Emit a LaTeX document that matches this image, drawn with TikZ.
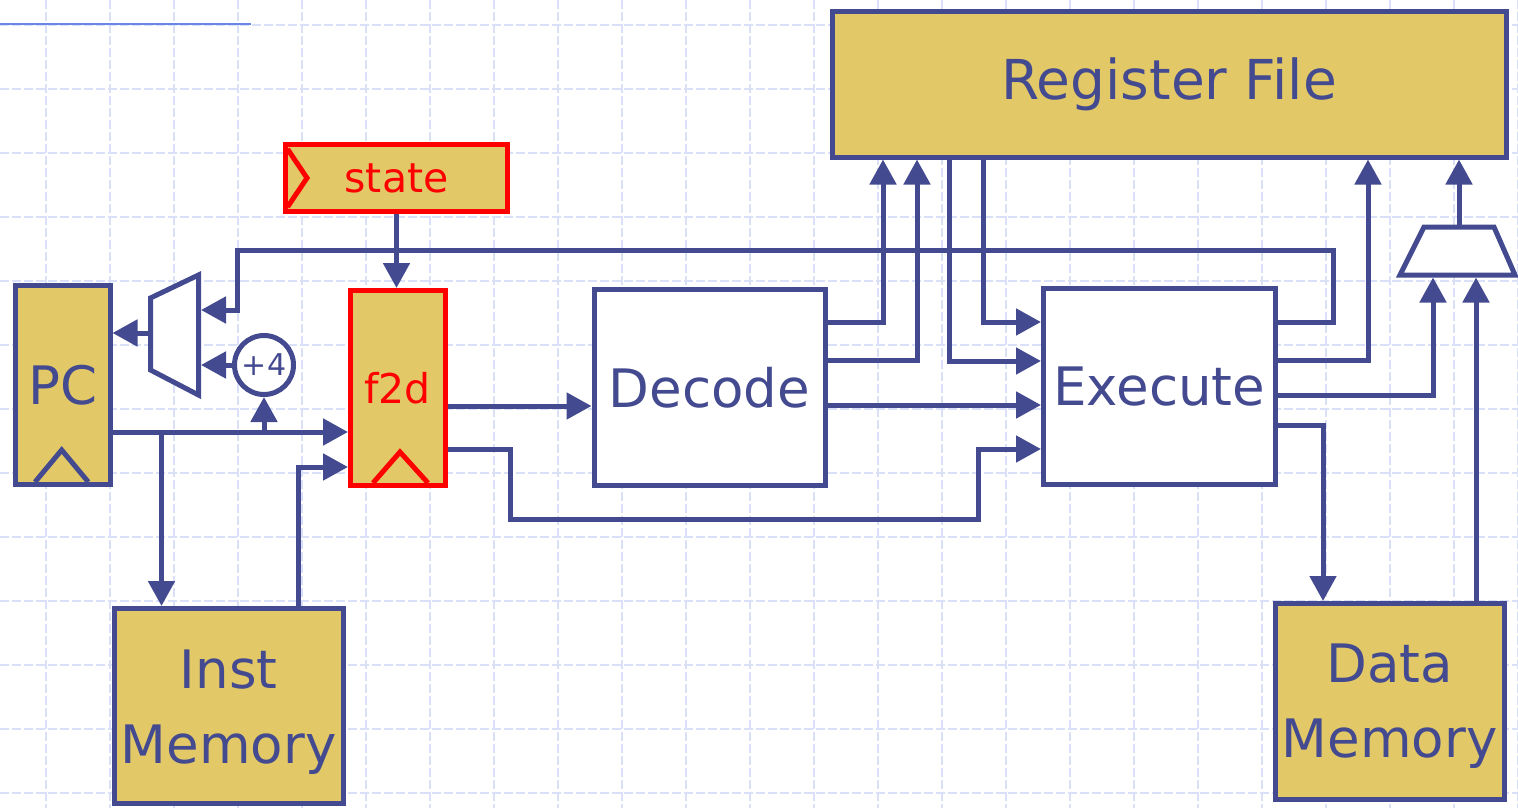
\documentclass[tikz,border=0pt]{standalone}
\usepackage{fontspec}
\setmainfont{DejaVu Sans}
\usetikzlibrary{arrows.meta}
\definecolor{db}{HTML}{434A8F}
\definecolor{gold}{HTML}{E2C866}
\definecolor{gridc}{HTML}{D9E0F8}
\definecolor{topline}{HTML}{6A85E6}
\begin{document}
\begin{tikzpicture}[x=1pt,y=-1pt,
  gridline/.style={gridc, line width=1.2pt, dash pattern=on 9pt off 3pt},
  wire/.style={db, line width=5pt},
  arr/.style={wire, -{Triangle[length=25pt,width=26pt]}},
  box/.style={line width=5pt, inner sep=0pt, align=center},
  goldbox/.style={box, draw=db, fill=gold, text=db},
  redbox/.style={box, draw=red, fill=gold, text=red},
  whitebox/.style={box, draw=db, fill=white, text=db},
  bigtext/.style={font=\fontsize{53}{75}\selectfont},
  midtext/.style={font=\fontsize{41}{50}\selectfont},
  clk/.style={line width=5pt, line join=miter},
  muxshape/.style={draw=db, fill=white, line width=5pt, line join=miter}
]
\useasboundingbox (0,0) rectangle (1518,808);
% background grid
\foreach \x in {46,110,...,1518} \draw[gridline] (\x,0) -- (\x,808);
\foreach \y in {25,89,...,808} \draw[gridline] (0,\y) -- (1518,\y);
\draw[topline, line width=2.5pt] (0,24) -- (251,24);

% boxes
\node[goldbox, bigtext, font=\fontsize{55}{75}\selectfont, minimum width=674pt, minimum height=145pt] (rf) at (1169,84.5) {Register File};
\node[redbox, midtext, minimum width=222pt, minimum height=67pt] (stt) at (396.5,178) {state};
\node[goldbox, bigtext, minimum width=94.5pt, minimum height=198.5pt] (pc) at (62.75,384.75) {PC};
\node[redbox, midtext, minimum width=94.5pt, minimum height=194.5pt] (f2d) at (397.75,387.75) {f2d};
\node[whitebox, bigtext, minimum width=231pt, minimum height=196.5pt] (dec) at (709.5,387.25) {Decode};
\node[whitebox, bigtext, minimum width=231.5pt, minimum height=196.5pt] (ex) at (1159.25,386.25) {Execute};
\node[goldbox, bigtext, minimum width=229pt, minimum height=195pt, text depth=0pt] (im) at (228.75,706) {};
\node[text=db, bigtext, align=center] at ([yshift=-6pt]im.center) {Inst\\Memory};
\node[goldbox, bigtext, minimum width=228.5pt, minimum height=195.5pt] (dm) at (1389.75,701.25) {};
\node[text=db, bigtext, align=center] at ([yshift=-5pt]dm.center) {Data\\Memory};
\node[circle, draw=db, fill=white, text=db, line width=5pt, inner sep=0pt, minimum size=59pt, font=\fontsize{30}{32}\selectfont] (p4) at (264,365) {+4};

% clock marks
\draw[clk, db] (35,482) -- (61.7,450) -- (88.3,482);
\draw[clk, red] (373,483) -- (400,452) -- (428,483);
\draw[clk, red] (287.5,149) -- (307,178) -- (287.5,207);

% left mux
\coordinate (m1a) at (150.5,298);
\coordinate (m1b) at (198.5,275);
\coordinate (m1c) at (198.5,395);
\coordinate (m1d) at (150.5,370);
\draw[muxshape] (m1a) -- (m1b) -- (m1c) -- (m1d) -- cycle;
\coordinate (m1out) at (148,333);
\coordinate (m1in1) at (201,310);
\coordinate (m1in2) at (201,365);

% right mux
\coordinate (m2a) at (1424,227);
\coordinate (m2b) at (1494,227);
\coordinate (m2c) at (1515,275);
\coordinate (m2d) at (1400,275);
\draw[muxshape] (m2a) -- (m2b) -- (m2c) -- (m2d) -- cycle;
\coordinate (m2out) at (1459,225);
\coordinate (m2in1) at (1433,277.5);
\coordinate (m2in2) at (1476,277.5);

% connectors: fetch side
\draw[arr] (m1out) -- (m1out -| pc.east);
\draw[arr] (p4.west) -- (m1in2);
\draw[arr] (stt.south) -- (stt.south |- f2d.north);
\draw[arr] (ex.east |- 0,322) -- (1333,322) -- (1333,250) -- (237,250) -- (237,310) -- (m1in1);
\draw[arr] (pc.east |- 0,432) -- (f2d.west |- 0,432);
\draw[arr] (264,432) -- (p4.south);
\draw[arr] (161.5,432) -- (161.5,0 |- im.north);
\draw[arr] (298,0 |- im.north) -- (298,467) -- (f2d.west |- 0,467);

% f2d to decode / execute
\draw[arr] (f2d.east |- 0,406) -- (dec.west |- 0,406);
\draw[arr] (f2d.east |- 0,449) -- (510,449) -- (510,519) -- (978,519) -- (978,449) -- (ex.west |- 0,449);

% decode outputs
\draw[arr] (dec.east |- 0,322) -- (883,322) -- (883,0 |- rf.south);
\draw[arr] (dec.east |- 0,360) -- (917,360) -- (917,0 |- rf.south);
\draw[arr] (dec.east |- 0,405) -- (ex.west |- 0,405);

% register file to execute
\draw[arr] (949,0 |- rf.south) -- (949,361) -- (ex.west |- 0,361);
\draw[arr] (983,0 |- rf.south) -- (983,322) -- (ex.west |- 0,322);

% execute outputs
\draw[arr] (ex.east |- 0,360) -- (1368,360) -- (1368,0 |- rf.south);
\draw[arr] (ex.east |- 0,395) -- (1433,395) -- (m2in1);
\draw[arr] (ex.east |- 0,425) -- (1323,425) -- (1323,0 |- dm.north);
\draw[arr] (1476,0 |- dm.north) -- (m2in2);
\draw[arr] (m2out) -- (m2out |- rf.south);
\end{tikzpicture}
\end{document}
